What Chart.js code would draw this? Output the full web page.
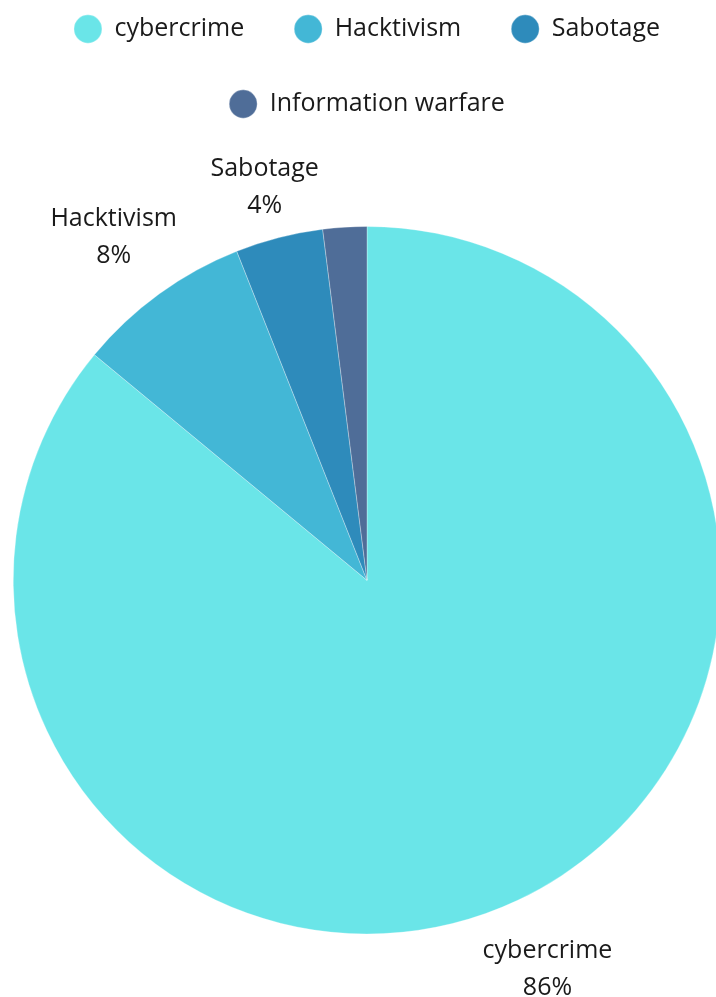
<!DOCTYPE html>
<html>
<head>
<meta charset="utf-8">
<title>Threat motivations</title>
<script src="https://cdn.jsdelivr.net/npm/chart.js@4.4.1/dist/chart.umd.min.js"></script>
<style>
  html, body { margin: 0; padding: 0; background: #fff; overflow: hidden; }
  #wrap { position: absolute; left: 0; top: 0; }
</style>
</head>
<body>
<div id="wrap"><canvas id="motivos"></canvas></div>
<script>
const categorias = ['cybercrime', 'Hacktivism', 'Sabotage', 'Information warfare'];
const valores = [86, 8, 4, 2];
const cores = ['#6ae5e8', '#43b7d6', '#2e8bbb', '#4f6d98'];
const rotulosMinimo = 3; // fatias menores que isso ficam sem rótulo

const canvas = document.getElementById('motivos');
canvas.width = 725;
canvas.height = 1034;

const fonte = '"Open Sans", Lato, sans-serif';

// Rótulos "nome / %" do lado de fora de cada fatia
const rotulosExternos = {
    id: 'rotulosExternos',
    afterDatasetsDraw(chart) {
        const ctx = chart.ctx;
        const meta = chart.getDatasetMeta(0);
        const dados = chart.data.datasets[0].data;
        const total = dados.reduce((a, b) => a + b, 0);
        ctx.save();
        ctx.font = '25px ' + fonte;
        ctx.fillStyle = '#1a1a1a';
        ctx.textAlign = 'center';
        ctx.textBaseline = 'alphabetic';
        meta.data.forEach((arco, i) => {
            if (dados[i] < rotulosMinimo) return;
            const p = arco.getProps(['x', 'y', 'startAngle', 'endAngle', 'outerRadius'], true);
            const meio = (p.startAngle + p.endAngle) / 2;
            const dx = Math.cos(meio), dy = Math.sin(meio);
            const linhas = [chart.data.labels[i], Math.round(dados[i] / total * 100) + '%'];
            const w = Math.max(...linhas.map(t => ctx.measureText(t).width));
            const h = 52;
            const dist = p.outerRadius + 19 + Math.abs(dx) * w / 2 + Math.abs(dy) * h / 2;
            const cx = p.x + dx * dist;
            const cy = p.y + dy * dist;
            ctx.fillText(linhas[0], cx, cy - 6);
            ctx.fillText(linhas[1], cx, cy + 31);
        });
        ctx.restore();
    }
};

const ctx = canvas.getContext('2d');
const grafico = new Chart(ctx, {
    type: 'pie',
    data: {
        labels: categorias,
        datasets: [{
            data: valores,
            backgroundColor: cores,
            borderColor: 'rgba(255, 255, 255, 0.6)',
            borderWidth: 0.5
        }]
    },
    options: {
        responsive: false,
        devicePixelRatio: 1,
        animation: false,
        layout: {
            padding: { top: -33.5, left: 13, right: 4, bottom: 0 }
        },
        plugins: {
            legend: {
                position: 'top',
                labels: {
                    usePointStyle: true,
                    pointStyle: 'circle',
                    pointStyleWidth: 28,
                    boxHeight: 20,
                    padding: 50,
                    color: '#1a1a1a',
                    font: { family: fonte, size: 25 }
                }
            },
            tooltip: { enabled: false }
        }
    },
    plugins: [rotulosExternos]
});
</script>
</body>
</html>
